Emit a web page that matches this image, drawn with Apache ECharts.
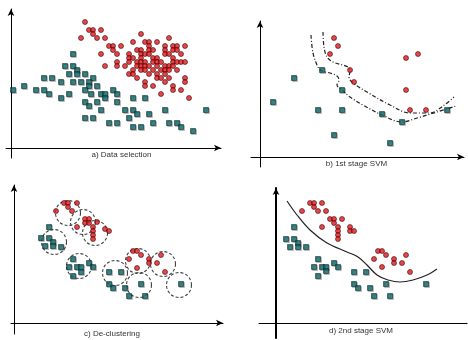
<!DOCTYPE html>
<html><head><meta charset="utf-8">
<script src="https://cdn.jsdelivr.net/npm/echarts@6/dist/echarts.min.js"></script>
<style>html,body{margin:0;padding:0;background:#fff}#c{width:468px;height:340px}</style>
</head><body><div id="c"></div>
<script>
// ---- data (local panel coordinates, origin at axis crossing, y up) ----
const panelLabels = ['a) Data selection', 'b) 1st stage SVM', 'c) De-clustering', 'd) 2nd stage SVM'];

const redA = [[74,126],[78,118],[82,118],[90,118],[82,114],[130,114],[70,110],[86,110],[94,110],[158,110],[122,106],[134,106],[138,106],[146,106],[98,102],[102,102],[110,102],[138,102],[154,102],[162,102],[166,102],[174,102],[102,98],[126,98],[130,98],[138,98],[142,98],[154,98],[162,98],[166,98],[90,94],[106,94],[118,94],[130,94],[134,94],[138,94],[154,94],[158,94],[170,94],[118,90],[122,90],[130,90],[142,90],[146,90],[162,90],[106,86],[118,86],[126,86],[130,86],[134,86],[142,86],[146,86],[150,86],[162,86],[166,86],[170,86],[174,86],[94,82],[106,82],[114,82],[126,82],[130,82],[134,82],[138,82],[146,82],[154,82],[158,82],[162,82],[122,78],[130,78],[134,78],[142,78],[150,78],[154,78],[158,78],[166,78],[118,74],[122,74],[138,74],[146,74],[154,74],[126,70],[146,70],[150,70],[158,70],[174,70],[134,66],[154,66],[174,66],[134,62],[142,62],[162,62],[162,58],[170,58],[150,54],[178,50]];
const tealA = [[62,94],[54,82],[62,82],[66,78],[58,74],[66,74],[74,74],[33,70],[41,70],[82,70],[50,66],[62,66],[70,66],[78,66],[13,62],[78,62],[86,62],[2,58],[25,58],[33,58],[74,58],[102,58],[38,54],[58,54],[80,54],[90,54],[94,54],[106,54],[50,50],[94,50],[122,50],[134,50],[74,46],[86,46],[106,46],[78,42],[90,38],[114,38],[122,38],[154,38],[195,38],[126,34],[138,34],[74,30],[82,30],[118,30],[98,25],[106,25],[142,25],[158,25],[166,25],[122,21],[130,21],[170,21],[182,17]];

const redB = [[74,119],[78,111],[70,103],[146,99],[158,103],[90,87],[94,75],[146,67],[150,47],[166,47]];
const tealB = [[62,87],[34,79],[82,67],[13,55],[58,47],[82,47],[122,43],[187,47],[142,35],[74,22],[130,14]];
const marginB1 = [[51,122],[53,104],[58,90],[62,86],[70,84],[77,81],[79,77],[77,72],[82,67],[90,60],[103,52],[122,42],[142,35],[157,39],[177,45],[196,51]];
const marginB2 = [[63,125],[64,110],[67,100],[73,95],[88,90],[90,86],[89,80],[93,74],[107,65],[130,52],[150,44],[170,44],[183,51],[194,60]];

const redC = [[50,120],[54,120],[63,120],[54,116],[42,112],[58,112],[71,104],[75,104],[71,100],[75,100],[83,101],[63,96],[79,96],[79,92],[91,94],[95,92],[79,88],[79,84],[119,72],[123,72],[115,64],[127,68],[135,64],[135,60],[147,68],[143,60],[123,55],[151,51]];
const tealC = [[35,96],[27,85],[35,85],[39,81],[31,77],[39,77],[47,76],[59,64],[55,56],[63,56],[67,56],[75,60],[79,56],[67,51],[59,47],[95,51],[107,51],[95,39],[99,35],[111,35],[127,39],[115,27],[131,27],[167,39]];
const clustersC = [[54,110],[69,101],[81,90],[40,81],[65,57],[101,50],[124,62],[125,38],[149,59],[165,38]];

const redD = [[34,120],[38,120],[46,120],[38,116],[26,112],[42,112],[50,112],[54,104],[58,104],[66,104],[58,100],[46,96],[62,96],[74,96],[62,92],[74,92],[78,92],[62,88],[62,84],[102,72],[106,72],[110,68],[130,68],[98,64],[118,64],[118,60],[126,60],[106,56],[134,51]];
const tealD = [[18,96],[10,84],[18,84],[22,80],[14,76],[22,76],[30,76],[42,64],[58,60],[38,56],[46,56],[50,56],[62,56],[50,52],[78,51],[90,51],[42,47],[78,39],[110,39],[150,39],[82,35],[94,35],[98,27],[114,27]];
const boundaryD = [[11,122],[21,108],[34,93],[51,80],[71,71],[82,66],[91,58],[101,48],[112,43],[124,41],[137,43],[151,48],[161,54]];

// ---- layout (pixels) ----
const panels = [
  {l:6,   r:221, t:9,   b:158, ox:11,  oy:148, xArrow:true,  yWidth:1, label:[121.5,155]},
  {l:251, r:464, t:21,  b:167, ox:260, oy:157, xArrow:true,  yWidth:1, label:[356.5,164]},
  {l:11,  r:223, t:185, b:334, ox:14,  oy:323, xArrow:true,  yWidth:1, label:[112,334]},
  {l:259, r:467, t:188, b:338, ox:276, oy:323, xArrow:false, yWidth:2, label:[361,331]}
];

const grid = [], xAxis = [], yAxis = [], graphic = [];
panels.forEach((p, i) => {
  grid.push({left:p.l, top:p.t, width:p.r-p.l, height:p.b-p.t, containLabel:false});
  xAxis.push({type:'value', gridIndex:i, min:p.l-p.ox, max:p.r-p.ox,
    axisLine:{show:true, onZero:true, symbol:p.xArrow?['none','arrow']:'none', symbolSize:[5,7], lineStyle:{color:'#000', width:1}},
    axisTick:{show:false}, axisLabel:{show:false}, splitLine:{show:false}});
  yAxis.push({type:'value', gridIndex:i, min:p.oy-p.b, max:p.oy-p.t,
    axisLine:{show:true, onZero:true, symbol:['none','arrow'], symbolSize:[5,7], lineStyle:{color:'#000', width:p.yWidth}},
    axisTick:{show:false}, axisLabel:{show:false}, splitLine:{show:false}});
  graphic.push({type:'text', x:p.label[0], y:p.label[1], silent:true,
    style:{text:panelLabels[i], fill:'#333', font:'8px "Liberation Sans", Arial, sans-serif', align:'center', verticalAlign:'middle'}});
});

const redStyle = {color:'#e3161b', borderColor:'#2a0000', borderWidth:0.7};
const tealStyle = {color:'#137070', borderColor:'#062626', borderWidth:0.7,
  shadowColor:'rgba(0,0,0,0.3)', shadowOffsetX:1, shadowOffsetY:1, shadowBlur:0};

function red(data, i){ return {type:'scatter', xAxisIndex:i, yAxisIndex:i, data, symbol:'circle', symbolSize:5, itemStyle:redStyle, z:4, silent:true}; }
function teal(data, i){ return {type:'scatter', xAxisIndex:i, yAxisIndex:i, data, symbol:'rect', symbolSize:5, itemStyle:tealStyle, z:3, silent:true}; }
function curve(data, i, type){ return {type:'line', xAxisIndex:i, yAxisIndex:i, data, smooth:0.35, showSymbol:false, silent:true,
  lineStyle:{color:'#222', width:1.2, type}, z:2}; }

const series = [
  teal(tealA,0), red(redA,0),
  curve(marginB1,1,[4,2,1,2]), curve(marginB2,1,[4,2,1,2]), teal(tealB,1), red(redB,1),
  {type:'scatter', xAxisIndex:2, yAxisIndex:2, data:clustersC, symbol:'circle', symbolSize:25, silent:true, z:2,
    itemStyle:{color:'rgba(0,0,0,0)', borderColor:'#111', borderWidth:1.1, borderType:[3,2]}},
  teal(tealC,2), red(redC,2),
  curve(boundaryD,3,'solid'), teal(tealD,3), red(redD,3)
];

const chart = echarts.init(document.getElementById('c'), null, {renderer:'canvas'});
chart.setOption({animation:false, backgroundColor:'#fff', grid, xAxis, yAxis, series, graphic, tooltip:{show:false}});
</script></body></html>
